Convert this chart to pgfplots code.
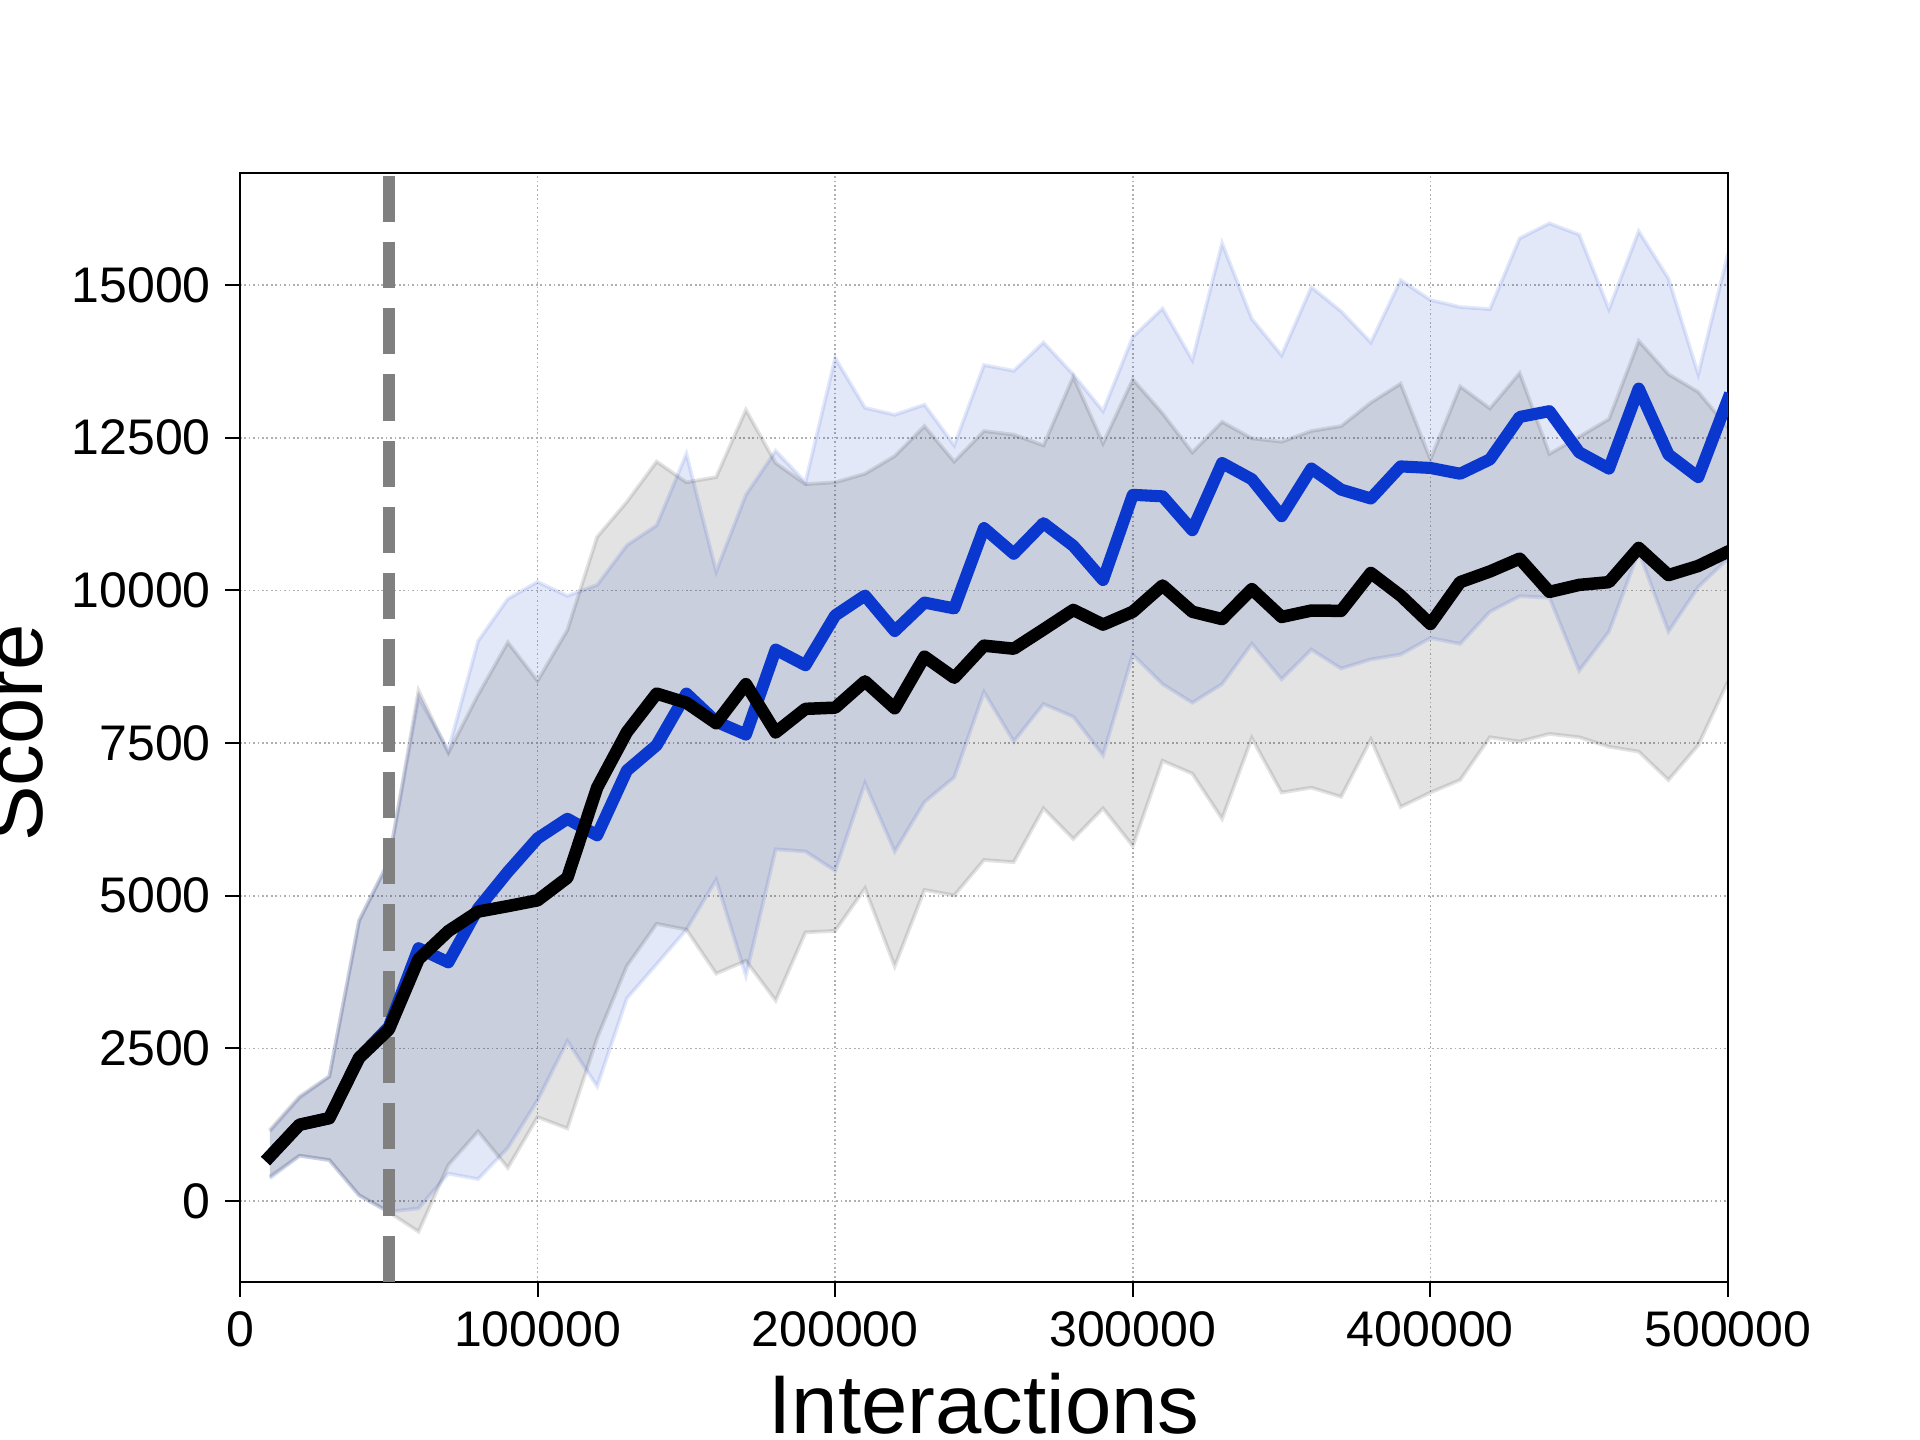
\documentclass[border=0pt]{standalone}
\usepackage{fontspec}
\setmainfont{Liberation Sans}
\usepackage{pgfplots}
\usepackage{pgfplotstable}
\pgfplotsset{compat=1.18}
\usepgfplotslibrary{fillbetween}
\definecolor{myblue}{RGB}{10,55,205}
\definecolor{gridgray}{RGB}{176,176,176}

\pgfplotstableread{
x bm bu bl km ku kl
10000 730 1140 370 730 1166 400
20000 1250 1690 740 1250 1714 745
30000 1358 2040 670 1358 2043 673
40000 2344 4580 90 2344 4600 99
50000 2850 5560 -175 2810 5570 -180
60000 4140 8250 -120 3960 8360 -500
70000 3910 7380 450 4420 7340 590
80000 4790 9170 360 4740 8290 1140
90000 5390 9860 870 4830 9150 545
100000 5940 10140 1650 4925 8520 1375
110000 6260 9910 2620 5295 9350 1190
120000 5990 10090 1880 6770 10875 2670
130000 7050 10740 3320 7680 11450 3850
140000 7465 11065 3880 8310 12110 4540
150000 8310 12235 4445 8160 11770 4445
160000 7850 10310 5260 7825 11855 3725
170000 7640 11565 3690 8465 12955 3935
180000 9030 12285 5760 7675 12085 3285
190000 8775 11770 5725 8060 11740 4400
200000 9590 13805 5410 8080 11770 4425
210000 9915 12990 6840 8510 11910 5120
220000 9335 12875 5725 8070 12200 3845
230000 9800 13040 6535 8915 12690 5095
240000 9705 12375 6940 8570 12110 5005
250000 11020 13690 8335 9095 12610 5585
260000 10600 13595 7525 9045 12550 5550
270000 11100 14060 8140 9360 12375 6430
280000 10730 13535 7930 9680 13500 5930
290000 10170 12935 7300 9440 12410 6430
300000 11565 14150 8950 9650 13455 5815
310000 11540 14615 8465 10080 12900 7210
320000 10985 13770 8160 9650 12260 7000
330000 12085 15685 8465 9530 12760 6260
340000 11820 14445 9125 10020 12490 7580
350000 11215 13850 8545 9565 12435 6690
360000 11995 14965 9030 9670 12610 6770
370000 11650 14570 8720 9665 12690 6620
380000 11505 14060 8870 10285 13075 7560
390000 12030 15080 8950 9915 13385 6455
400000 12005 14755 9220 9450 12145 6690
410000 11910 14640 9125 10135 13340 6895
420000 12145 14605 9650 10310 12980 7595
430000 12840 15765 9905 10520 13560 7525
440000 12935 16010 9880 9975 12235 7650
450000 12260 15825 8685 10090 12515 7595
460000 11995 14605 9325 10135 12805 7440
470000 13305 15880 10635 10695 14085 7360
480000 12225 15105 9325 10250 13540 6895
490000 11855 13540 10055 10400 13250 7465
500000 13130 15510 10520 10635 12665 8510
}\data

\begin{document}
\begin{tikzpicture}
\begin{axis}[
  at={(0,0)}, anchor=south west,
  scale only axis, width=357.12pt, height=266.16pt,
  xmin=0, xmax=500000, ymin=-1325, ymax=16835,
  xtick={0,100000,200000,300000,400000,500000},
  ytick={0,2500,5000,7500,10000,12500,15000},
  scaled x ticks=false, scaled y ticks=false,
  /pgf/number format/assume math mode=true,
  xticklabel style={/pgf/number format/fixed, /pgf/number format/1000 sep={}},
  yticklabel style={/pgf/number format/fixed, /pgf/number format/1000 sep={}},
  tick label style={font=\fontsize{12}{14}\selectfont},
  xlabel={Interactions}, ylabel={Score},
  xlabel style={font=\fontsize{20}{24}\selectfont, at={(axis description cs:0.5,-0.0812)}, anchor=north, inner sep=0pt},
  ylabel style={font=\fontsize{20}{24}\selectfont, at={(axis description cs:-0.1327,0.495)}, rotate=0, anchor=base, inner sep=0pt},
  axis line style={line width=0.5pt},
  tick style={line width=0.5pt, black},
  tick align=outside, tick pos=left,
  major tick length=3.5pt,
  grid=major, grid style={dash pattern=on 0.4pt off 0.66pt, color=gridgray, line width=0.4pt},
]
\addplot[name path=bu, draw=myblue, draw opacity=0.115, line width=0.9pt, no markers, forget plot] table[x=x,y=bu]{\data};
\addplot[name path=bl, draw=myblue, draw opacity=0.115, line width=0.9pt, no markers, forget plot] table[x=x,y=bl]{\data};
\addplot[fill=myblue, fill opacity=0.115, draw=none, forget plot] fill between[of=bu and bl];
\addplot[name path=ku, draw=black, draw opacity=0.11, line width=0.9pt, no markers, forget plot] table[x=x,y=ku]{\data};
\addplot[name path=kl, draw=black, draw opacity=0.11, line width=0.9pt, no markers, forget plot] table[x=x,y=kl]{\data};
\addplot[fill=black, fill opacity=0.11, draw=none, forget plot] fill between[of=ku and kl];
\addplot[color=gray, line width=3pt, dash pattern=on 11.1pt off 4.8pt, no markers] coordinates {(50000,-1325) (50000,16835)};
\addplot[myblue, line width=2.9pt, line join=round, line cap=rect, no markers] table[x=x,y=bm]{\data};
\addplot[black, line width=3pt, line join=round, line cap=rect, no markers] table[x=x,y=km]{\data};
\end{axis}
\pgfresetboundingbox
\useasboundingbox (-57.6pt,-37.92pt) rectangle (403.2pt,307.68pt);
\end{tikzpicture}
\end{document}
